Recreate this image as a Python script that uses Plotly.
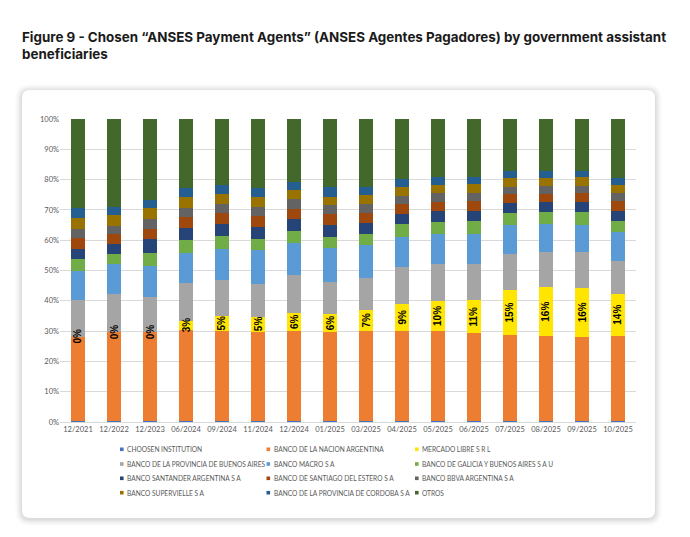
import plotly.graph_objects as go

categories = ["12/2021", "12/2022", "12/2023", "06/2024", "09/2024", "11/2024", "12/2024",
              "01/2025", "03/2025", "04/2025", "05/2025", "06/2025", "07/2025", "08/2025",
              "09/2025", "10/2025"]

choosen     = [0.3] * 16
nacion      = [27.9, 29.3, 29.3, 30.1, 29.7, 29.5, 29.7, 29.3, 29.7, 29.7, 29.7, 29.0, 28.3, 28.1, 27.9, 28.1]
mercado     = [0, 0, 0, 3, 5, 5, 6, 6, 7, 9, 10, 11, 15, 16, 16, 14]
provincia   = [12.0, 12.5, 11.5, 12.5, 11.9, 10.9, 12.6, 10.7, 10.4, 12.3, 12.1, 11.8, 11.8, 11.6, 11.8, 10.6]
macro       = [9.8, 10.0, 10.5, 10.0, 10.3, 11.1, 10.4, 11.2, 11.1, 9.9, 9.8, 9.8, 9.5, 9.2, 9.0, 9.7]
galicia     = [3.7, 3.3, 4.2, 4.3, 4.3, 3.7, 4.1, 3.7, 3.5, 4.1, 4.0, 4.4, 4.0, 4.0, 4.3, 3.7]
santander   = [3.4, 3.3, 4.5, 3.7, 3.7, 3.7, 3.8, 3.7, 3.6, 3.2, 3.7, 3.3, 3.3, 3.3, 3.2, 3.2]
santiago    = [3.7, 3.3, 3.3, 3.6, 3.7, 3.9, 3.4, 3.7, 3.5, 3.3, 3.1, 3.3, 2.9, 2.7, 3.0, 3.3]
bbva        = [2.8, 2.7, 3.4, 3.0, 3.0, 3.0, 3.2, 3.0, 2.8, 2.9, 2.8, 2.8, 2.6, 2.7, 2.5, 2.6]
supervielle = [3.6, 3.6, 3.5, 3.6, 3.3, 3.0, 3.1, 2.8, 3.0, 3.0, 2.7, 2.8, 2.7, 2.7, 2.7, 2.6]
cordoba     = [3.3, 2.8, 2.8, 3.0, 2.9, 3.0, 2.5, 3.0, 2.8, 2.5, 2.5, 2.5, 2.4, 2.2, 2.2, 2.5]
otros       = [29.5, 28.9, 26.7, 22.9, 21.9, 22.9, 20.9, 22.6, 22.3, 19.8, 19.3, 19.0, 17.2, 17.2, 17.1, 19.4]

series = [
    ("CHOOSEN INSTITUTION", choosen, "#4472C4"),
    ("BANCO DE LA NACION ARGENTINA", nacion, "#ED7D31"),
    ("MERCADO LIBRE S R L", mercado, "#FFE500"),
    ("BANCO DE LA PROVINCIA DE BUENOS AIRES", provincia, "#A5A5A5"),
    ("BANCO MACRO S A", macro, "#5B9BD5"),
    ("BANCO DE GALICIA Y BUENOS AIRES S A U", galicia, "#70AD47"),
    ("BANCO SANTANDER ARGENTINA S A", santander, "#264478"),
    ("BANCO DE SANTIAGO DEL ESTERO S A", santiago, "#9E480E"),
    ("BANCO BBVA ARGENTINA S A", bbva, "#636363"),
    ("BANCO SUPERVIELLE S A", supervielle, "#997300"),
    ("BANCO DE LA PROVINCIA DE CORDOBA S A", cordoba, "#255E91"),
    ("OTROS", otros, "#43682B"),
]

OFF = 8                      # page body margin
W, H = 690 - OFF, 537 - OFF
# plot area in page pixels: x 60..636, y 119..422
ML, MT = 60 - OFF, 119 - OFF
MR = W - (636 - OFF)
MB = H - (422 - OFF)
PW, PH = W - ML - MR, H - MT - MB

def px_x(x):
    return (x - OFF - ML) / PW

def px_y(y):
    return (H - MB - (y - OFF)) / PH

fig = go.Figure()
for name, vals, color in series:
    fig.add_trace(go.Bar(
        x=categories, y=vals, name=name,
        marker=dict(color=color, line=dict(width=0)),
        hoverinfo="name+y", showlegend=False,
    ))

annotations = []
for i, cat in enumerate(categories):
    base = choosen[i] + nacion[i]
    annotations.append(dict(
        x=cat, y=base + mercado[i] / 2, xref="x", yref="y",
        text=f"{mercado[i]:.0f}%", textangle=-90, showarrow=False,
        font=dict(family="Liberation Sans", size=10, color="#000000", weight="bold"),
    ))


def rrect(x0, y0, x1, y1, r):
    rx, ry = r / PW, r / PH
    X0, X1 = px_x(x0), px_x(x1)
    Yt, Yb = px_y(y0), px_y(y1)
    return (f"M{X0+rx},{Yt} L{X1-rx},{Yt} Q{X1},{Yt} {X1},{Yt-ry} "
            f"L{X1},{Yb+ry} Q{X1},{Yb} {X1-rx},{Yb} L{X0+rx},{Yb} "
            f"Q{X0},{Yb} {X0},{Yb+ry} L{X0},{Yt-ry} Q{X0},{Yt} {X0+rx},{Yt} Z")

shapes = []
for k in range(7, 0, -1):
    shapes.append(dict(type="path", xref="paper", yref="paper", layer="below",
                       path=rrect(22 - k, 90 - k + 1, 655 + k, 518 + k + 1, 8 + k),
                       fillcolor=f"rgba(0,0,0,{0.010 + 0.003 * (7 - k)})", line=dict(width=0)))
shapes.append(dict(type="path", xref="paper", yref="paper", layer="below",
                   path=rrect(22, 90, 655, 518, 8),
                   fillcolor="#FFFFFF", line=dict(width=0)))

# legend drawn as key squares + text (3 columns, row-major order)
col_x = [120, 266.5, 415]
row_y = [449.3, 464, 478.3, 492.7]
sq = 3.6
for i, (name, _, color) in enumerate(series):
    cx, cy = col_x[i % 3], row_y[i // 3]
    shapes.append(dict(type="rect", xref="paper", yref="paper",
                       x0=px_x(cx), x1=px_x(cx + sq), y0=px_y(cy + sq / 2), y1=px_y(cy - sq / 2),
                       fillcolor=color, line=dict(width=0)))
    annotations.append(dict(
        x=px_x(cx + sq + 1.6), y=px_y(cy), xref="paper", yref="paper",
        xanchor="left", yanchor="middle", text=name, showarrow=False,
        font=dict(family="Lato", size=6.6, color="#595959"),
    ))

fig.update_layout(
    width=W, height=H,
    margin=dict(l=ML, r=MR, t=MT, b=MB),
    paper_bgcolor="#FFFFFF",
    plot_bgcolor="rgba(0,0,0,0)",
    barmode="stack",
    bargap=0.61,
    showlegend=False,
    title=dict(
        text="Figure 9 - Chosen “ANSES Payment Agents” (ANSES Agentes Pagadores) by government assistant<br>beneficiaries",
        x=(22 - OFF) / W, xref="container", xanchor="left",
        y=1 - (42 - OFF) / H, yref="container", yanchor="top",
        font=dict(family="Inter", size=13.4, color="#1A1A1A", weight="bold"),
    ),
    xaxis=dict(
        type="category", showgrid=False, showline=True, linecolor="#D9D9D9", linewidth=1,
        ticks="", tickfont=dict(family="Lato", size=7.5, color="#595959"), fixedrange=True,
    ),
    yaxis=dict(
        range=[0, 100], dtick=10, ticksuffix="%", showgrid=True, gridcolor="#D9D9D9",
        gridwidth=1, zeroline=False, showline=False, ticks="",
        tickfont=dict(family="Lato", size=7.5, color="#595959"), fixedrange=True,
    ),
    annotations=annotations,
    shapes=shapes,
)

fig.write_html("out.html")
